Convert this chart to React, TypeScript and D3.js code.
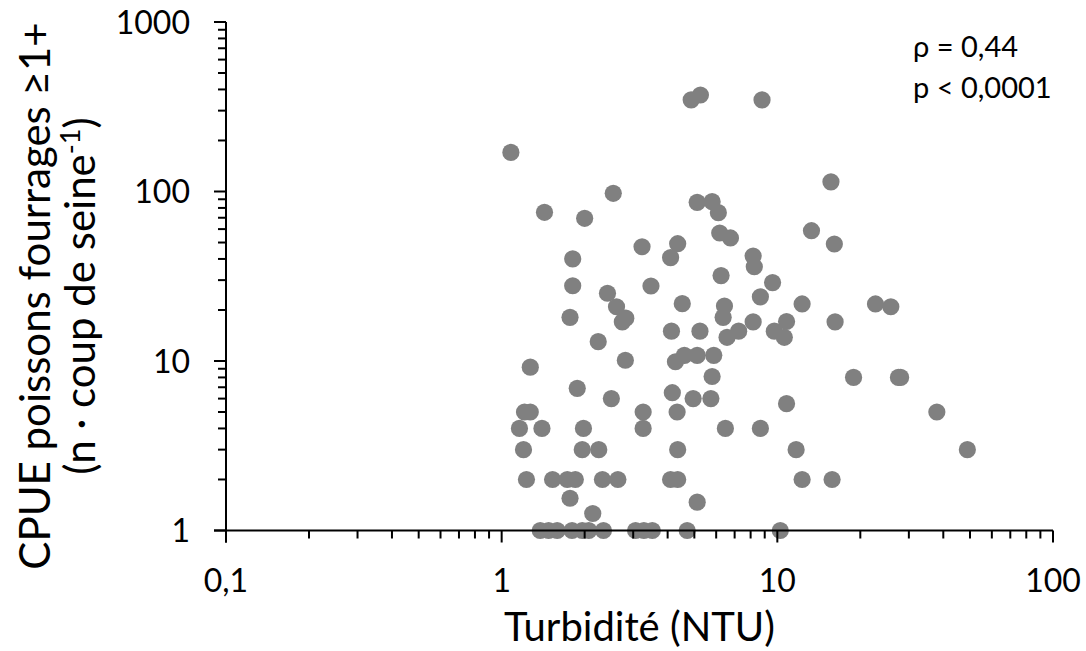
import { scaleLog } from "d3";

// Turbidité (NTU) and CPUE for each seine haul
const turbidity = [
  4.87, 5.26, 8.8, 1.08, 2.54, 1.43, 2.0, 5.12, 5.8, 6.11,
  6.18, 6.76, 13.3, 16.1, 15.65, 3.23, 4.35, 4.1, 8.17, 8.25,
  1.81, 6.25, 9.61, 8.68, 1.81, 3.48, 2.42, 2.61, 2.82, 2.74,
  4.52, 6.43, 6.36, 12.3, 22.7, 25.8, 1.77, 8.17, 10.8, 9.75,
  10.6, 16.2, 2.24, 4.13, 5.24, 7.24, 6.57, 1.27, 2.81, 4.27,
  4.6, 5.12, 5.88, 5.8, 18.9, 27.5, 28.0, 1.88, 2.5, 4.16,
  4.95, 5.74, 10.8, 1.21, 1.27, 3.26, 4.33, 37.9, 1.16, 1.4,
  1.98, 3.26, 6.48, 8.68, 1.2, 1.96, 2.25, 4.35, 11.7, 48.9,
  1.23, 1.53, 1.73, 1.85, 2.32, 2.64, 4.1, 4.35, 12.3, 15.8,
  1.77, 2.14, 5.12,
  1.38, 1.48, 1.59, 1.8, 1.96, 2.07, 2.34, 3.06, 3.28, 3.52, 4.71, 10.25
];
const cpue = [
  347, 371, 347, 170, 97.6, 75.4, 69.5, 86.3, 87.1, 75,
  56.9, 53.2, 58.7, 49, 114, 47.2, 49.2, 40.7, 41.6, 36,
  40, 31.9, 29, 23.9, 27.8, 27.7, 25.1, 20.9, 17.9, 17,
  21.8, 21.1, 18.1, 21.7, 21.7, 20.9, 18.1, 17, 17.1, 15,
  13.8, 17, 13, 15, 15, 15, 13.8, 9.2, 10.1, 9.9,
  10.8, 10.8, 10.8, 8.1, 8, 8, 8, 6.9, 6, 6.5,
  6, 6, 5.6, 5, 5, 5, 5, 5, 4, 4,
  4, 4, 4, 4, 3, 3, 3, 3, 3, 3,
  2, 2, 2, 2, 2, 2, 2, 2, 2, 2,
  1.55, 1.26, 1.47,
  1, 1, 1, 1, 1, 1, 1, 1, 1, 1, 1, 1
];

const xTickValues = [0.1, 1, 10, 100];
const xTickLabels = ["0,1", "1", "10", "100"];
const yTickValues = [1, 10, 100, 1000];
const yTickLabels = ["1", "10", "100", "1000"];

const font = "Lato, 'Open Sans', sans-serif";

function minorTicks(decades: number[]) {
  const out: number[] = [];
  decades.slice(0, -1).forEach((d) => {
    for (let m = 2; m <= 9; m++) out.push(d * m);
  });
  return out;
}

export default function App() {
  const width = 1086;
  const height = 651;
  const x = scaleLog().domain([0.1, 100]).range([226, 1053]);
  const y = scaleLog().domain([1, 1000]).range([530.5, 22]);
  const x0 = x(0.1);
  const y0 = y(1);
  const major = 12;
  const minor = 8;

  return (
    <svg
      width={width}
      height={height}
      style={{ position: "absolute", left: 0, top: 0, background: "#fff" }}
      fontFamily={font}
    >
      {/* points */}
      {turbidity.map((t, i) => (
        <circle key={i} cx={x(t)} cy={y(cpue[i])} r={8.6} fill="#808080" />
      ))}

      {/* x axis */}
      <line x1={x0 - major} x2={x(100)} y1={y0} y2={y0} stroke="#000" strokeWidth={2} />
      {xTickValues.map((v) => (
        <line key={v} x1={x(v)} x2={x(v)} y1={y0} y2={y0 + major} stroke="#000" strokeWidth={2} />
      ))}
      {minorTicks(xTickValues).map((v) => (
        <line key={v} x1={x(v)} x2={x(v)} y1={y0} y2={y0 + minor} stroke="#000" strokeWidth={2} />
      ))}
      {xTickValues.map((v, i) => (
        <text key={v} x={x(v)} y={592} textAnchor="middle" fontSize={32} fill="#000">
          {xTickLabels[i]}
        </text>
      ))}

      {/* y axis */}
      <line x1={x0} x2={x0} y1={y(1000)} y2={y0 + major} stroke="#000" strokeWidth={2} />
      {yTickValues.map((v) => (
        <line key={v} x1={x0 - major} x2={x0} y1={y(v)} y2={y(v)} stroke="#000" strokeWidth={2} />
      ))}
      {minorTicks(yTickValues).map((v) => (
        <line key={v} x1={x0 - minor} x2={x0} y1={y(v)} y2={y(v)} stroke="#000" strokeWidth={2} />
      ))}
      {yTickValues.map((v, i) => (
        <text key={v} x={190} y={y(v)} dy="0.36em" textAnchor="end" fontSize={32} fill="#000">
          {yTickLabels[i]}
        </text>
      ))}

      {/* axis titles */}
      <text x={(x(0.1) + x(100)) / 2} y={641} textAnchor="middle" fontSize={40} fill="#000">
        Turbidité (NTU)
      </text>
      <g transform="translate(50, 296) rotate(-90)">
        <text x={0} y={0} textAnchor="middle" fontSize={42} fill="#000">
          CPUE poissons fourrages ≥1+
        </text>
        <text x={0} y={45} textAnchor="middle" fontSize={42} fill="#000">
          (n · coup de seine<tspan dy={-15} fontSize={27}>-1</tspan>
          <tspan dy={15}>)</tspan>
        </text>
      </g>

      {/* correlation */}
      <text x={913} y={57} fontSize={29} fill="#000">ρ = 0,44</text>
      <text x={913} y={98} fontSize={29} fill="#000">p &lt; 0,0001</text>
    </svg>
  );
}
